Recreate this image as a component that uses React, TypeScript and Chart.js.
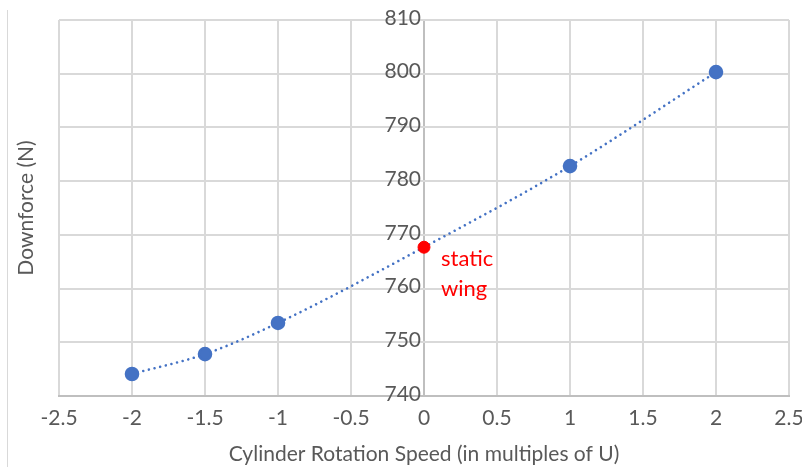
import React, { useEffect, useRef } from "react";
import { Chart, registerables } from "chart.js";

Chart.register(...registerables);

const xValues = [-2, -1.5, -1, 0, 1, 2];
const downforce = [744.1, 747.8, 753.6, 767.7, 782.8, 800.3];
const staticX = [0];
const staticY = [767.7];
const yTicks = [740, 750, 760, 770, 780, 790, 800, 810];
const xTitle = "Cylinder Rotation Speed (in multiples of U)";
const yTitle = "Downforce (N)";
const noteLines = ["static", "wing"];

const FONT = "Lato, 'Open Sans', sans-serif";
const GRAY = "#595959";

const overlay = {
  id: "overlay",
  afterDraw(chart: any) {
    const ctx = chart.ctx;
    const xs = chart.scales.x;
    const ys = chart.scales.y;
    ctx.save();
    // faint chart frame on left
    ctx.strokeStyle = "#d9d9d9";
    ctx.lineWidth = 1;
    ctx.beginPath();
    ctx.moveTo(7.5, 10);
    ctx.lineTo(7.5, 467);
    ctx.stroke();
    // y tick labels at x=0 axis
    const x0 = xs.getPixelForValue(0);
    ctx.fillStyle = GRAY;
    ctx.font = `21px ${FONT}`;
    ctx.textAlign = "right";
    ctx.textBaseline = "middle";
    yTicks.forEach((v) => {
      ctx.fillText(String(v), x0 - 3, ys.getPixelForValue(v) - 2);
    });
    // annotation
    const px = xs.getPixelForValue(staticX[0]);
    const py = ys.getPixelForValue(staticY[0]);
    ctx.fillStyle = "#ff0000";
    ctx.font = `22px ${FONT}`;
    ctx.textAlign = "left";
    noteLines.forEach((t, i) => {
      ctx.fillText(t, px + 17, py + 12 + i * 30);
    });
    ctx.restore();
  },
};

export default function App() {
  const ref = useRef<HTMLCanvasElement>(null);
  useEffect(() => {
    if (!ref.current) return;
    const chart = new Chart(ref.current, {
      type: "scatter",
      data: {
        datasets: [
          {
            label: "static",
            data: staticX.map((x, i) => ({ x, y: staticY[i] })),
            backgroundColor: "#ff0000",
            borderColor: "#ff0000",
            pointRadius: 6,
            showLine: false,
          },
          {
            label: "downforce",
            data: xValues.map((x, i) => ({ x, y: downforce[i] })),
            backgroundColor: "#4472C4",
            borderColor: "#4472C4",
            pointBorderColor: "#4472C4",
            pointRadius: xValues.map((x) => (x === 0 ? 0 : 6)),
            showLine: true,
            borderWidth: 2.6,
            borderDash: [0.01, 5.8],
            borderCapStyle: "round",
            cubicInterpolationMode: "monotone",
          } as any,
        ],
      },
      options: {
        responsive: false,
        animation: false,
        layout: { padding: { left: 0, right: 13, top: 20, bottom: 0 } },
        plugins: { legend: { display: false }, tooltip: { enabled: false } },
        scales: {
          x: {
            type: "linear",
            min: -2.5,
            max: 2.5,
            ticks: {
              stepSize: 0.5,
              color: GRAY,
              font: { family: FONT, size: 21 },
              padding: 10,
              callback: (v: any) => String(Math.round(Number(v) * 10) / 10),
            },
            grid: {
              color: (c: any) => (c.tick && c.tick.value === 0 ? "#bfbfbf" : "#d9d9d9"),
              lineWidth: 2,
              drawTicks: false,
            },
            border: { color: "#bfbfbf", width: 2 },
            title: {
              display: true,
              text: xTitle,
              color: GRAY,
              font: { family: FONT, size: 21 },
              padding: { top: 0, bottom: 0 },
            },
            afterFit: (s: any) => {
              s.height = 71;
              s.paddingLeft = 0;
              s.paddingRight = 0;
            },
          },
          y: {
            type: "linear",
            min: 740,
            max: 810,
            ticks: { stepSize: 10, display: false },
            grid: { color: "#d9d9d9", lineWidth: 2, drawTicks: false },
            border: { display: false },
            title: {
              display: true,
              text: yTitle,
              color: GRAY,
              font: { family: FONT, size: 21 },
              padding: { top: 14, bottom: 0 },
            },
            afterFit: (s: any) => {
              s.width = 59;
              s.paddingTop = 0;
              s.paddingBottom = 0;
            },
          },
        },
      } as any,
      plugins: [overlay],
    });
    return () => chart.destroy();
  }, []);
  return (
    <div style={{ position: "absolute", left: 0, top: 0, width: 802, height: 467, background: "#fff" }}>
      <canvas ref={ref} width={802} height={467} />
    </div>
  );
}
